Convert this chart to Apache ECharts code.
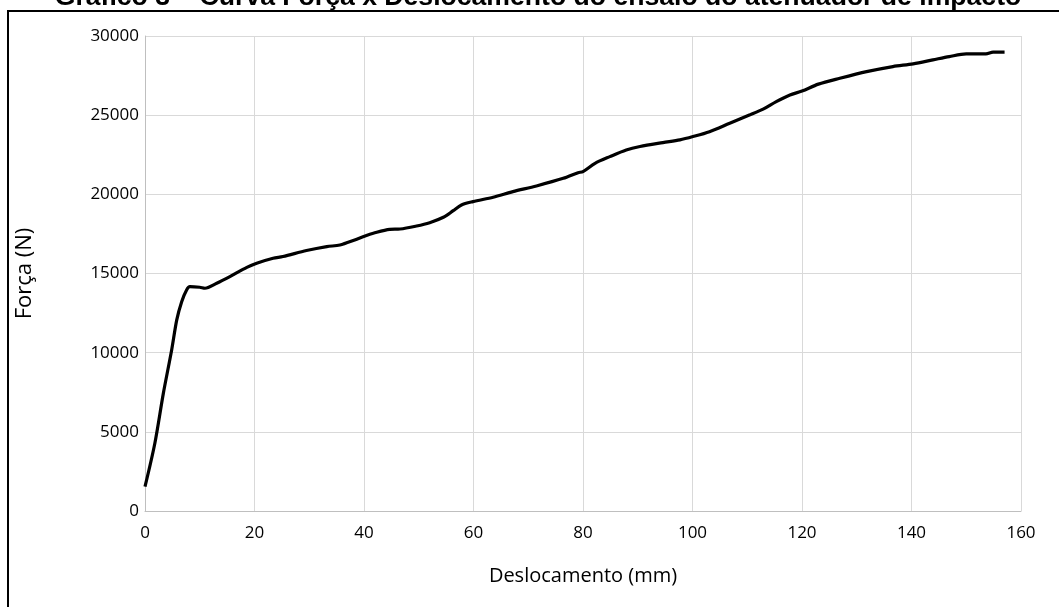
<!DOCTYPE html>
<html>
<head>
<meta charset="utf-8">
<script src="https://cdn.jsdelivr.net/npm/echarts@6/dist/echarts.min.js"></script>
<style>
html,body{margin:0;padding:0;background:#fff;}
#chart{width:1059px;height:607px;}
</style>
</head>
<body>
<div id="chart"></div>
<script>
const titleText = 'Gráfico 3 – Curva Força x Deslocamento do ensaio do atenuador de impacto';
const xAxisName = 'Deslocamento (mm)';
const yAxisName = 'Força (N)';

const deslocamento = [0, 1.8, 3.35, 4.87, 5.8, 6.7, 7.6, 8.2, 10.0, 10.95, 13.1, 15.5, 18.6, 20.4, 23.4, 25.2, 29.5, 33.2, 35.6, 38.3, 40.2, 41.7, 44.7, 46.6, 49.6, 52.0, 54.5, 56.3, 57.8, 59.9, 63.6, 67.2, 71.5, 76.4, 79.1, 80.0, 82.2, 84.9, 87.9, 90.4, 94.6, 97.7, 100.1, 103.1, 106.8, 110.5, 112.9, 115.3, 117.8, 120.0, 123.0, 126.9, 131.8, 136.6, 140.3, 143.9, 146.9, 150.0, 153.6, 154.9, 157.0];
const forca = [1535, 4280, 7430, 10170, 12070, 13220, 13960, 14170, 14130, 14070, 14380, 14800, 15390, 15650, 15960, 16070, 16450, 16700, 16800, 17120, 17370, 17540, 17790, 17810, 18000, 18210, 18550, 18970, 19330, 19540, 19820, 20170, 20530, 21010, 21370, 21440, 21960, 22380, 22800, 23020, 23270, 23440, 23650, 23960, 24490, 25020, 25380, 25860, 26280, 26520, 26960, 27330, 27750, 28070, 28240, 28490, 28700, 28870, 28870, 28980, 28980];

const xMin = 0, xMax = 160, xStep = 20;
const yMin = 0, yMax = 30000, yStep = 5000;

const points = deslocamento.map((x, i) => [x, forca[i]]);

const chart = echarts.init(document.getElementById('chart'), null, {renderer: 'canvas'});
const labelFont = '"Open Sans", Lato, sans-serif';
chart.setOption({
  animation: false,
  backgroundColor: '#ffffff',
  grid: {left: 145, right: 38, top: 36, bottom: 96, containLabel: false},
  xAxis: {
    type: 'value', min: xMin, max: xMax, interval: xStep,
    name: xAxisName, nameLocation: 'middle', nameGap: 55,
    nameTextStyle: {color: '#000', fontSize: 20, fontFamily: labelFont},
    axisLine: {show: true, lineStyle: {color: '#bfbfbf', width: 1}},
    axisTick: {show: false},
    axisLabel: {color: '#000', fontSize: 17, fontFamily: labelFont, margin: 14, formatter: v => String(v)},
    splitLine: {show: true, lineStyle: {color: '#d9d9d9', width: 1}}
  },
  yAxis: {
    type: 'value', min: yMin, max: yMax, interval: yStep,
    name: yAxisName, nameLocation: 'middle', nameGap: 109, nameRotate: 90,
    nameTextStyle: {color: '#000', fontSize: 22, fontFamily: labelFont},
    axisLine: {show: true, lineStyle: {color: '#bfbfbf', width: 1}},
    axisTick: {show: false},
    axisLabel: {color: '#000', fontSize: 17, fontFamily: labelFont, margin: 6, formatter: v => String(v)},
    splitLine: {show: true, lineStyle: {color: '#d9d9d9', width: 1}}
  },
  series: [{
    type: 'line', data: points, showSymbol: false, smooth: 0.3,
    lineStyle: {color: '#000', width: 3.2}, z: 5
  }],
  graphic: [
    {type: 'rect', shape: {x: 8, y: 11, width: 1100, height: 700}, style: {fill: 'none', stroke: '#000', lineWidth: 2}, silent: true},
    {type: 'text', x: 538, y: 11, style: {text: titleText, fill: '#000', font: 'bold 26.6px "Liberation Sans", Arial, sans-serif', textAlign: 'center', textVerticalAlign: 'bottom'}}
  ]
});
</script>
</body>
</html>
